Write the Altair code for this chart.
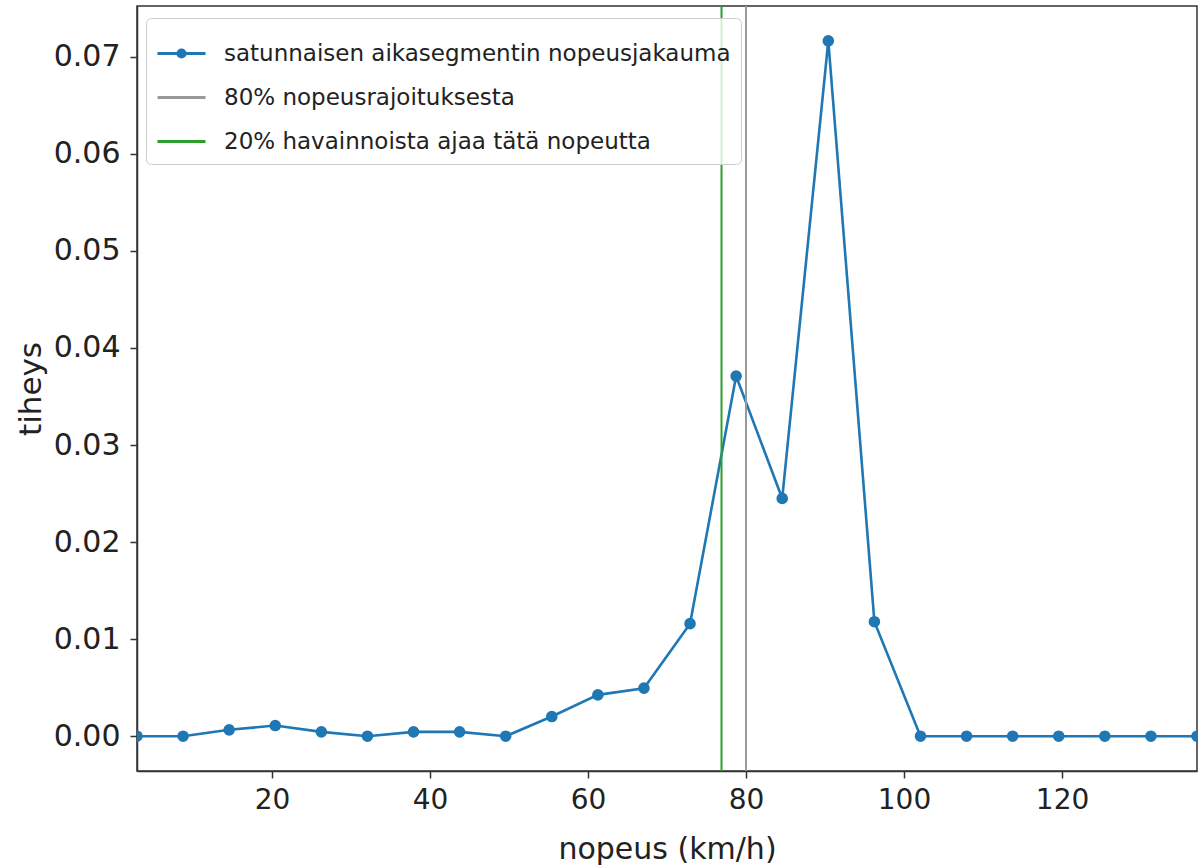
import altair as alt
import pandas as pd

# ---- data ----
speed_bins = [2.917, 8.75, 14.583, 20.417, 26.25, 32.083, 37.917, 43.75, 49.583,
              55.417, 61.25, 67.083, 72.917, 78.75, 84.583, 90.417, 96.25, 102.083,
              107.917, 113.75, 119.583, 125.417, 131.25, 137.083]
density = [0.0, 0.0, 0.00066, 0.0011, 0.00045, 0.0, 0.00045, 0.00045, 0.0,
           0.00203, 0.00426, 0.00495, 0.0116, 0.0371, 0.0245, 0.07165, 0.0118, 0.0,
           0.0, 0.0, 0.0, 0.0, 0.0, 0.0]
series_names = ["satunnaisen aikasegmentin nopeusjakauma",
                "80% nopeusrajoituksesta",
                "20% havainnoista ajaa tätä nopeutta"]
rule_speeds = [80.0, 76.9]
x_ticks = [20, 40, 60, 80, 100, 120]
y_ticks = [0.0, 0.01, 0.02, 0.03, 0.04, 0.05, 0.06, 0.07]

colors = ["#1f77b4", "#999999", "#2ca02c"]
shape_paths = [
    "M-1,0H1M-0.15,0A0.15,0.15,0,1,0,0.15,0A0.15,0.15,0,1,0,-0.15,0Z",
    "M-1,0H1",
    "M-1,0H1",
]

x_dom = [min(speed_bins), max(speed_bins)]
y_rng = max(density) - min(density)
y_dom = [min(density) - 0.05 * y_rng, max(density) + 0.05 * y_rng]

dist = pd.DataFrame({"nopeus": speed_bins, "tiheys": density})
rules = pd.DataFrame({"nopeus": rule_speeds, "sarja": series_names[1:]})
legend_df = pd.DataFrame({"sarja": series_names})

x_enc = alt.X("nopeus:Q",
              scale=alt.Scale(domain=x_dom, nice=False, zero=False),
              axis=alt.Axis(values=x_ticks, title="nopeus (km/h)", format="d"))
y_enc = alt.Y("tiheys:Q",
              scale=alt.Scale(domain=y_dom, nice=False, zero=False),
              axis=alt.Axis(values=y_ticks, format=".2f", title="tiheys"))

line = alt.Chart(dist).mark_line(color=colors[0], strokeWidth=2.6, clip=True).encode(x=x_enc, y=y_enc)
pts = alt.Chart(dist).mark_circle(color=colors[0], size=135, opacity=1, clip=True).encode(x=x_enc, y=y_enc)

rule_layer = alt.Chart(rules).mark_rule(strokeWidth=2).encode(
    x=alt.X("nopeus:Q"),
    color=alt.Color("sarja:N", scale=alt.Scale(domain=series_names[1:], range=colors[1:]), legend=None),
)

def make_legend():
    return alt.Legend(
        title=None, orient="none", legendX=9, legendY=12,
        labelFont="DejaVu Sans", labelFontSize=23, labelColor="#222222", labelLimit=900,
        symbolSize=2304, symbolStrokeWidth=3, symbolOpacity=1,
        labelOffset=17, rowPadding=6, padding=10,
        fillColor="rgba(255,255,255,0.8)", strokeColor="#cccccc", cornerRadius=5,
    )

leg_layer = alt.Chart(legend_df).mark_point(filled=True, opacity=0, size=10).encode(
    fill=alt.Fill("sarja:N", scale=alt.Scale(domain=series_names, range=colors), legend=make_legend()),
    stroke=alt.Stroke("sarja:N", scale=alt.Scale(domain=series_names, range=colors), legend=make_legend()),
    shape=alt.Shape("sarja:N", scale=alt.Scale(domain=series_names, range=shape_paths), legend=make_legend()),
)

chart = alt.layer(line, pts, rule_layer, leg_layer).properties(
    width=1060, height=765,
    autosize=alt.AutoSizeParams(type="none"),
    padding={"left": 137, "top": 6, "right": 7, "bottom": 97},
    background="white",
).configure_view(
    stroke="#333333", strokeWidth=1.5
).configure_axis(
    grid=False, domainColor="#333333", domainWidth=1.5,
    tickColor="#333333", tickWidth=1.5, tickSize=7,
    labelFont="DejaVu Sans", labelColor="#222222",
    titleFont="DejaVu Sans", titleColor="#222222", titleFontWeight="normal",
).configure_axisX(
    labelFontSize=28, titleFontSize=30, labelPadding=8, titlePadding=20,
).configure_axisY(
    labelFontSize=30, titleFontSize=31, labelPadding=10, titlePadding=6,
)

chart.save("out.html", embed_options={"renderer": "svg", "actions": False})
